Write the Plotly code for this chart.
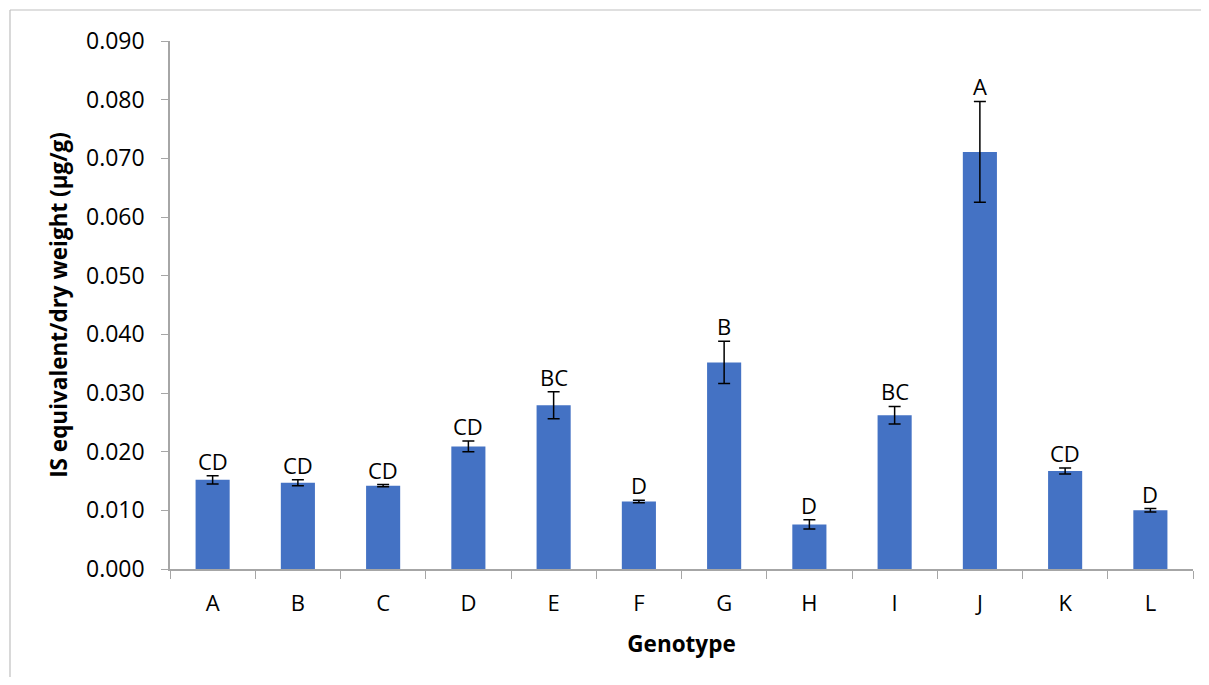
import plotly.graph_objects as go

genotypes = ["A", "B", "C", "D", "E", "F", "G", "H", "I", "J", "K", "L"]
means = [0.0152, 0.0147, 0.0142, 0.0209, 0.0279, 0.0115, 0.0352, 0.0076, 0.0262, 0.0711, 0.0167, 0.0100]
errors = [0.0007, 0.0005, 0.0002, 0.0009, 0.0023, 0.0002, 0.0036, 0.0008, 0.0015, 0.0086, 0.0005, 0.0003]
letters = ["CD", "CD", "CD", "CD", "BC", "D", "B", "D", "BC", "A", "CD", "D"]
y_ticks = [0.0, 0.01, 0.02, 0.03, 0.04, 0.05, 0.06, 0.07, 0.08, 0.09]

# page body has an 8px margin on every side; size the figure to fit without scrollbars
OFF = 8
W, H = 1209 - 2 * OFF, 685 - 2 * OFF
ml, mt = 170 - OFF, 41 - OFF
mr = W - (1193 - OFF)
mb = H - mt - 528
pw, ph = W - ml - mr, H - mt - mb

FONT = "Open Sans"

fig = go.Figure()
fig.add_trace(go.Bar(
    x=genotypes, y=means,
    marker=dict(color="#4472C4", line=dict(width=0)),
    width=0.4,
    error_y=dict(type="data", array=errors, visible=True, color="black", thickness=1.5, width=6),
    showlegend=False,
))

for g, m, e, l in zip(genotypes, means, errors, letters):
    fig.add_annotation(x=g, y=m + e, text=l, showarrow=False, yanchor="bottom", yshift=-2,
                       font=dict(family=FONT, size=22, color="black"))

def px_x(p):
    return (p - OFF - ml) / pw

def px_y(p):
    return (H - mb - (p - OFF)) / ph

# outer chart-area border (only top and left edges are visible in the reference)
border = dict(color="#BFBFBF", width=1.2)
fig.add_shape(type="line", xref="paper", yref="paper",
              x0=px_x(10), x1=px_x(1240), y0=px_y(10), y1=px_y(10), line=border, layer="below")
fig.add_shape(type="line", xref="paper", yref="paper",
              x0=px_x(10), x1=px_x(10), y0=px_y(10), y1=px_y(720), line=border, layer="below")

fig.update_layout(
    width=W, height=H,
    margin=dict(l=ml, r=mr, t=mt, b=mb, autoexpand=False),
    paper_bgcolor="white", plot_bgcolor="white",
    font=dict(family=FONT, color="black"),
    xaxis=dict(
        title=dict(text="<b>Genotype</b>", font=dict(size=22.5, family=FONT), standoff=20),
        tickfont=dict(size=22, family=FONT),
        ticklabelstandoff=14,
        showline=True, linecolor="#A6A6A6", linewidth=1.5,
        ticks="outside", tickson="boundaries", ticklen=8, tickcolor="#A6A6A6",
        showgrid=False, range=[-0.5, 11.5],
    ),
    yaxis=dict(
        title=dict(text="<b>IS equivalent/dry weight (μg/g)</b>", font=dict(size=22.5, family=FONT), standoff=12),
        tickfont=dict(size=23, family=FONT),
        ticklabelstandoff=12,
        tickvals=y_ticks, ticktext=[f"{v:.3f}" for v in y_ticks],
        range=[0, 0.09],
        showline=True, linecolor="#A6A6A6", linewidth=1.5,
        ticks="outside", ticklen=7, tickcolor="#A6A6A6",
        showgrid=False, zeroline=False,
    ),
)

fig.write_html("out.html")
